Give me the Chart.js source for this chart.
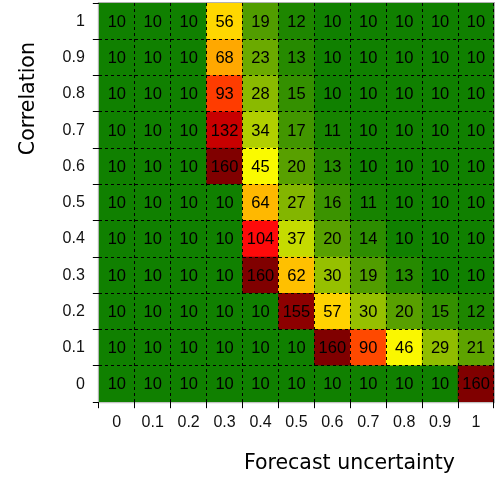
<!DOCTYPE html>
<html lang="en">
<head>
<meta charset="UTF-8">
<title>Forecast uncertainty vs correlation</title>
<style>
  html, body { margin: 0; padding: 0; background: #fff; }
  #wrap { width: 498px; height: 480px; }
</style>
</head>
<body>
<div id="wrap"><canvas id="heat"></canvas></div>
<script src="https://cdn.jsdelivr.net/npm/chart.js"></script>
<script>
// axis categories
const uncertainty = ['0', '0.1', '0.2', '0.3', '0.4', '0.5', '0.6', '0.7', '0.8', '0.9', '1'];
const correlation = ['0', '0.1', '0.2', '0.3', '0.4', '0.5', '0.6', '0.7', '0.8', '0.9', '1'];

// one row per correlation level, values left to right along uncertainty
const corr00 = [10, 10, 10, 10, 10, 10, 10, 10, 10, 10, 160];
const corr01 = [10, 10, 10, 10, 10, 10, 160, 90, 46, 29, 21];
const corr02 = [10, 10, 10, 10, 10, 155, 57, 30, 20, 15, 12];
const corr03 = [10, 10, 10, 10, 160, 62, 30, 19, 13, 10, 10];
const corr04 = [10, 10, 10, 10, 104, 37, 20, 14, 10, 10, 10];
const corr05 = [10, 10, 10, 10, 64, 27, 16, 11, 10, 10, 10];
const corr06 = [10, 10, 10, 160, 45, 20, 13, 10, 10, 10, 10];
const corr07 = [10, 10, 10, 132, 34, 17, 11, 10, 10, 10, 10];
const corr08 = [10, 10, 10, 93, 28, 15, 10, 10, 10, 10, 10];
const corr09 = [10, 10, 10, 68, 23, 13, 10, 10, 10, 10, 10];
const corr10 = [10, 10, 10, 56, 19, 12, 10, 10, 10, 10, 10];
const rows = [corr00, corr01, corr02, corr03, corr04, corr05, corr06, corr07, corr08, corr09, corr10];

// green -> yellow -> red -> dark red
const stops = [
  [10, [16, 128, 0]], [20, [88, 160, 0]], [30, [150, 192, 0]], [45, [250, 250, 0]],
  [56, [255, 215, 0]], [68, [255, 168, 0]], [93, [255, 60, 0]], [104, [255, 10, 10]],
  [132, [200, 0, 0]], [160, [128, 0, 0]]
];
function colorFor(v) {
  for (let i = 1; i < stops.length; i++) {
    if (v <= stops[i][0]) {
      const [a, ca] = stops[i - 1], [b, cb] = stops[i];
      const t = Math.max(0, (v - a) / (b - a));
      const c = ca.map((x, k) => Math.round(x + (cb[k] - x) * t));
      return `rgb(${c[0]},${c[1]},${c[2]})`;
    }
  }
  const c = stops[stops.length - 1][1];
  return `rgb(${c[0]},${c[1]},${c[2]})`;
}

const datasets = rows.map((vals, r) => ({
  data: vals.map(() => [r, r + 1]),
  cellValues: vals,
  backgroundColor: vals.map(colorFor),
  borderWidth: 0,
  barPercentage: 1,
  categoryPercentage: 1,
  grouped: false
}));

// numbers in the cells + light frame round the plot
const cellText = {
  id: 'cellText',
  afterDatasetsDraw(chart) {
    const ctx = chart.ctx;
    ctx.save();
    ctx.font = '16.5px "Liberation Sans", Arial, sans-serif';
    ctx.fillStyle = '#000';
    ctx.textAlign = 'center';
    ctx.textBaseline = 'middle';
    chart.data.datasets.forEach((ds, d) => {
      chart.getDatasetMeta(d).data.forEach((bar, i) => {
        const p = bar.getProps(['x', 'y', 'base'], true);
        ctx.fillText(ds.cellValues[i], p.x, (p.y + p.base) / 2 + 1);
      });
    });
    ctx.restore();
  },
  afterDraw(chart) {
    const a = chart.chartArea, ctx = chart.ctx;
    ctx.save();
    ctx.strokeStyle = 'rgba(0,0,0,0.3)';
    ctx.lineWidth = 1;
    ctx.strokeRect(a.left - 0.5, a.top - 0.5, a.right - a.left + 1, a.bottom - a.top + 1);
    ctx.restore();
  }
};

const tickFont = { family: '"Liberation Sans", sans-serif', size: 16 };
const titleFont = { family: '"DejaVu Sans", sans-serif', size: 20.5 };
const noPad = (scale) => { scale.paddingTop = 0; scale.paddingBottom = 0; };

new Chart(document.getElementById('heat'), {
  type: 'bar',
  data: { labels: uncertainty, datasets: datasets },
  plugins: [cellText],
  options: {
    responsive: true,
    maintainAspectRatio: false,
    animation: false,
    layout: { padding: { top: 3, right: 4, left: 8, bottom: 4 } },
    plugins: { legend: { display: false }, tooltip: { enabled: false } },
    scales: {
      x: {
        type: 'category',
        offset: true,
        grid: {
          z: 1,
          offset: true,
          color: (c) => (c.index === 0 || c.index >= uncertainty.length) ? 'rgba(0,0,0,0)' : '#000',
          lineWidth: 1,
          tickColor: '#000',
          tickLength: 6,
          tickBorderDash: []
        },
        border: { display: false, dash: [3, 3] },
        ticks: { color: '#111', font: tickFont, maxRotation: 0, autoSkip: false, padding: 5 },
        title: {
          display: true,
          text: 'Forecast uncertainty      ',
          align: 'end',
          color: '#000',
          font: titleFont,
          padding: { top: 14, bottom: 0 }
        }
      },
      y: {
        type: 'linear',
        min: 0,
        max: 11,
        afterFit: noPad,
        grid: {
          z: 1,
          color: (c) => (c.tick && (c.tick.value === 0 || c.tick.value === 11)) ? 'rgba(0,0,0,0)' : '#000',
          lineWidth: 1,
          tickColor: '#000',
          tickLength: 6,
          tickBorderDash: []
        },
        border: { display: false, dash: [3, 3] },
        ticks: {
          stepSize: 1,
          autoSkip: false,
          color: '#111',
          font: tickFont,
          padding: 8,
          labelOffset: -18,
          callback: (v) => v < correlation.length ? correlation[v] : ''
        },
        title: {
          display: true,
          text: 'Correlation      ',
          align: 'end',
          color: '#000',
          font: titleFont,
          padding: { top: 8, bottom: 14 }
        }
      }
    }
  }
});
</script>
</body>
</html>
